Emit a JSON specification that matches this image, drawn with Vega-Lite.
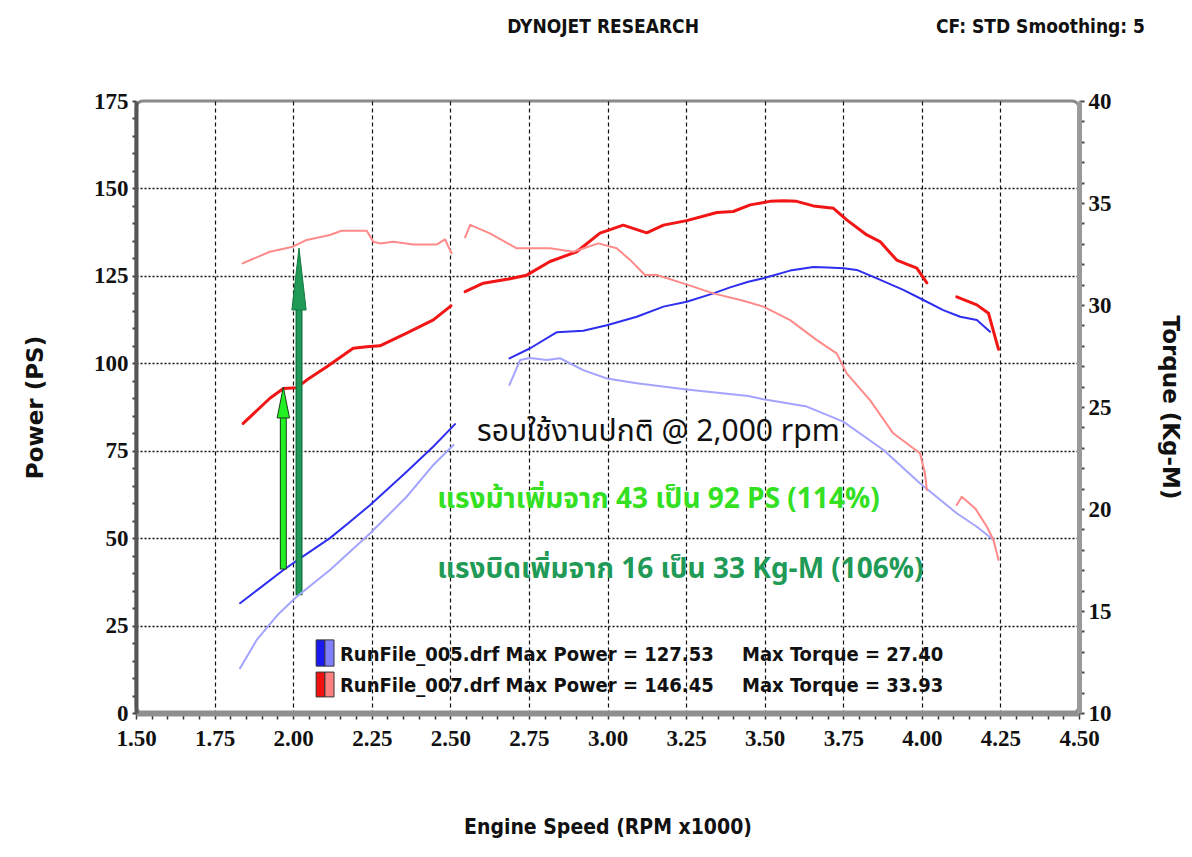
{
  "$schema": "https://vega.github.io/schema/vega-lite/v6.json",
  "width": 943,
  "height": 612,
  "autosize": "none",
  "padding": {"left": 136, "top": 101, "right": 113, "bottom": 144},
  "background": "white",
  "config": {
    "view": {"stroke": "#8a8a8a", "strokeWidth": 3, "cornerRadius": 7},
    "axis": {"labelFont": "Liberation Serif", "labelFontWeight": "bold", "labelFontSize": 23, "labelColor": "#111", "titleColor": "#111"}
  },
  "datasets": {
    "curves": [
      {"rpm": 1.831, "v": 31.4, "key": "P005", "seg": "a"},
      {"rpm": 1.898, "v": 36.0, "key": "P005", "seg": "a"},
      {"rpm": 1.969, "v": 40.9, "key": "P005", "seg": "a"},
      {"rpm": 2.022, "v": 44.2, "key": "P005", "seg": "a"},
      {"rpm": 2.117, "v": 50.0, "key": "P005", "seg": "a"},
      {"rpm": 2.18, "v": 54.6, "key": "P005", "seg": "a"},
      {"rpm": 2.245, "v": 59.5, "key": "P005", "seg": "a"},
      {"rpm": 2.30, "v": 64.0, "key": "P005", "seg": "a"},
      {"rpm": 2.361, "v": 69.0, "key": "P005", "seg": "a"},
      {"rpm": 2.446, "v": 76.2, "key": "P005", "seg": "a"},
      {"rpm": 2.515, "v": 82.6, "key": "P005", "seg": "a"},
      {"rpm": 2.688, "v": 101.4, "key": "P005", "seg": "b"},
      {"rpm": 2.754, "v": 104.3, "key": "P005", "seg": "b"},
      {"rpm": 2.839, "v": 108.9, "key": "P005", "seg": "b"},
      {"rpm": 2.923, "v": 109.3, "key": "P005", "seg": "b"},
      {"rpm": 2.998, "v": 110.9, "key": "P005", "seg": "b"},
      {"rpm": 3.093, "v": 113.3, "key": "P005", "seg": "b"},
      {"rpm": 3.178, "v": 116.2, "key": "P005", "seg": "b"},
      {"rpm": 3.252, "v": 117.6, "key": "P005", "seg": "b"},
      {"rpm": 3.337, "v": 120.0, "key": "P005", "seg": "b"},
      {"rpm": 3.390, "v": 121.7, "key": "P005", "seg": "b"},
      {"rpm": 3.448, "v": 123.3, "key": "P005", "seg": "b"},
      {"rpm": 3.496, "v": 124.3, "key": "P005", "seg": "b"},
      {"rpm": 3.581, "v": 126.5, "key": "P005", "seg": "b"},
      {"rpm": 3.655, "v": 127.53, "key": "P005", "seg": "b"},
      {"rpm": 3.70, "v": 127.4, "key": "P005", "seg": "b"},
      {"rpm": 3.751, "v": 127.2, "key": "P005", "seg": "b"},
      {"rpm": 3.793, "v": 126.7, "key": "P005", "seg": "b"},
      {"rpm": 3.857, "v": 124.3, "key": "P005", "seg": "b"},
      {"rpm": 3.941, "v": 121.0, "key": "P005", "seg": "b"},
      {"rpm": 4.005, "v": 118.1, "key": "P005", "seg": "b"},
      {"rpm": 4.068, "v": 115.2, "key": "P005", "seg": "b"},
      {"rpm": 4.122, "v": 113.3, "key": "P005", "seg": "b"},
      {"rpm": 4.175, "v": 112.4, "key": "P005", "seg": "b"},
      {"rpm": 4.217, "v": 109.0, "key": "P005", "seg": "b"},
      {"rpm": 1.841, "v": 82.8, "key": "P007", "seg": "a"},
      {"rpm": 1.926, "v": 90.0, "key": "P007", "seg": "a"},
      {"rpm": 1.969, "v": 92.8, "key": "P007", "seg": "a"},
      {"rpm": 2.011, "v": 93.0, "key": "P007", "seg": "a"},
      {"rpm": 2.043, "v": 95.2, "key": "P007", "seg": "a"},
      {"rpm": 2.107, "v": 99.0, "key": "P007", "seg": "a"},
      {"rpm": 2.191, "v": 104.3, "key": "P007", "seg": "a"},
      {"rpm": 2.234, "v": 104.7, "key": "P007", "seg": "a"},
      {"rpm": 2.276, "v": 105.0, "key": "P007", "seg": "a"},
      {"rpm": 2.361, "v": 108.6, "key": "P007", "seg": "a"},
      {"rpm": 2.446, "v": 112.4, "key": "P007", "seg": "a"},
      {"rpm": 2.502, "v": 116.4, "key": "P007", "seg": "a"},
      {"rpm": 2.547, "v": 120.5, "key": "P007", "seg": "b"},
      {"rpm": 2.605, "v": 122.9, "key": "P007", "seg": "b"},
      {"rpm": 2.680, "v": 124.0, "key": "P007", "seg": "b"},
      {"rpm": 2.743, "v": 125.2, "key": "P007", "seg": "b"},
      {"rpm": 2.817, "v": 129.1, "key": "P007", "seg": "b"},
      {"rpm": 2.902, "v": 131.9, "key": "P007", "seg": "b"},
      {"rpm": 2.976, "v": 137.2, "key": "P007", "seg": "b"},
      {"rpm": 3.050, "v": 139.5, "key": "P007", "seg": "b"},
      {"rpm": 3.125, "v": 137.3, "key": "P007", "seg": "b"},
      {"rpm": 3.178, "v": 139.5, "key": "P007", "seg": "b"},
      {"rpm": 3.252, "v": 140.8, "key": "P007", "seg": "b"},
      {"rpm": 3.348, "v": 143.1, "key": "P007", "seg": "b"},
      {"rpm": 3.400, "v": 143.4, "key": "P007", "seg": "b"},
      {"rpm": 3.454, "v": 145.3, "key": "P007", "seg": "b"},
      {"rpm": 3.517, "v": 146.3, "key": "P007", "seg": "b"},
      {"rpm": 3.560, "v": 146.45, "key": "P007", "seg": "b"},
      {"rpm": 3.602, "v": 146.3, "key": "P007", "seg": "b"},
      {"rpm": 3.655, "v": 145.0, "key": "P007", "seg": "b"},
      {"rpm": 3.719, "v": 144.3, "key": "P007", "seg": "b"},
      {"rpm": 3.761, "v": 141.0, "key": "P007", "seg": "b"},
      {"rpm": 3.825, "v": 136.7, "key": "P007", "seg": "b"},
      {"rpm": 3.867, "v": 134.8, "key": "P007", "seg": "b"},
      {"rpm": 3.920, "v": 129.5, "key": "P007", "seg": "b"},
      {"rpm": 3.984, "v": 127.2, "key": "P007", "seg": "b"},
      {"rpm": 4.016, "v": 123.0, "key": "P007", "seg": "b"},
      {"rpm": 4.111, "v": 119.0, "key": "P007", "seg": "c"},
      {"rpm": 4.175, "v": 116.7, "key": "P007", "seg": "c"},
      {"rpm": 4.212, "v": 114.3, "key": "P007", "seg": "c"},
      {"rpm": 4.244, "v": 104.0, "key": "P007", "seg": "c"}
    ],
    "torque": [
      {"rpm": 1.831, "v": 12.19, "key": "T005", "seg": "a"},
      {"rpm": 1.884, "v": 13.58, "key": "T005", "seg": "a"},
      {"rpm": 1.95, "v": 14.8, "key": "T005", "seg": "a"},
      {"rpm": 2.011, "v": 15.70, "key": "T005", "seg": "a"},
      {"rpm": 2.117, "v": 17.01, "key": "T005", "seg": "a"},
      {"rpm": 2.245, "v": 18.81, "key": "T005", "seg": "a"},
      {"rpm": 2.361, "v": 20.60, "key": "T005", "seg": "a"},
      {"rpm": 2.446, "v": 22.16, "key": "T005", "seg": "a"},
      {"rpm": 2.510, "v": 23.14, "key": "T005", "seg": "a"},
      {"rpm": 2.688, "v": 26.08, "key": "T005", "seg": "b"},
      {"rpm": 2.722, "v": 27.30, "key": "T005", "seg": "b"},
      {"rpm": 2.754, "v": 27.40, "key": "T005", "seg": "b"},
      {"rpm": 2.807, "v": 27.30, "key": "T005", "seg": "b"},
      {"rpm": 2.849, "v": 27.39, "key": "T005", "seg": "b"},
      {"rpm": 2.923, "v": 26.81, "key": "T005", "seg": "b"},
      {"rpm": 2.998, "v": 26.40, "key": "T005", "seg": "b"},
      {"rpm": 3.093, "v": 26.16, "key": "T005", "seg": "b"},
      {"rpm": 3.252, "v": 25.86, "key": "T005", "seg": "b"},
      {"rpm": 3.448, "v": 25.54, "key": "T005", "seg": "b"},
      {"rpm": 3.496, "v": 25.38, "key": "T005", "seg": "b"},
      {"rpm": 3.634, "v": 25.02, "key": "T005", "seg": "b"},
      {"rpm": 3.750, "v": 24.28, "key": "T005", "seg": "b"},
      {"rpm": 3.878, "v": 22.89, "key": "T005", "seg": "b"},
      {"rpm": 3.994, "v": 21.26, "key": "T005", "seg": "b"},
      {"rpm": 4.111, "v": 19.79, "key": "T005", "seg": "b"},
      {"rpm": 4.175, "v": 19.13, "key": "T005", "seg": "b"},
      {"rpm": 4.228, "v": 18.48, "key": "T005", "seg": "b"},
      {"rpm": 1.839, "v": 32.04, "key": "T007", "seg": "a"},
      {"rpm": 1.926, "v": 32.61, "key": "T007", "seg": "a"},
      {"rpm": 1.999, "v": 32.86, "key": "T007", "seg": "a"},
      {"rpm": 2.043, "v": 33.19, "key": "T007", "seg": "a"},
      {"rpm": 2.117, "v": 33.43, "key": "T007", "seg": "a"},
      {"rpm": 2.154, "v": 33.64, "key": "T007", "seg": "a"},
      {"rpm": 2.234, "v": 33.64, "key": "T007", "seg": "a"},
      {"rpm": 2.255, "v": 33.10, "key": "T007", "seg": "a"},
      {"rpm": 2.276, "v": 33.02, "key": "T007", "seg": "a"},
      {"rpm": 2.319, "v": 33.10, "key": "T007", "seg": "a"},
      {"rpm": 2.382, "v": 32.97, "key": "T007", "seg": "a"},
      {"rpm": 2.457, "v": 32.97, "key": "T007", "seg": "a"},
      {"rpm": 2.483, "v": 33.22, "key": "T007", "seg": "a"},
      {"rpm": 2.504, "v": 32.53, "key": "T007", "seg": "a"},
      {"rpm": 2.547, "v": 33.32, "key": "T007", "seg": "b"},
      {"rpm": 2.563, "v": 33.93, "key": "T007", "seg": "b"},
      {"rpm": 2.626, "v": 33.51, "key": "T007", "seg": "b"},
      {"rpm": 2.711, "v": 32.78, "key": "T007", "seg": "b"},
      {"rpm": 2.817, "v": 32.78, "key": "T007", "seg": "b"},
      {"rpm": 2.891, "v": 32.61, "key": "T007", "seg": "b"},
      {"rpm": 2.971, "v": 33.02, "key": "T007", "seg": "b"},
      {"rpm": 3.029, "v": 32.78, "key": "T007", "seg": "b"},
      {"rpm": 3.072, "v": 32.21, "key": "T007", "seg": "b"},
      {"rpm": 3.119, "v": 31.47, "key": "T007", "seg": "b"},
      {"rpm": 3.157, "v": 31.47, "key": "T007", "seg": "b"},
      {"rpm": 3.241, "v": 31.06, "key": "T007", "seg": "b"},
      {"rpm": 3.337, "v": 30.57, "key": "T007", "seg": "b"},
      {"rpm": 3.432, "v": 30.21, "key": "T007", "seg": "b"},
      {"rpm": 3.496, "v": 29.92, "key": "T007", "seg": "b"},
      {"rpm": 3.581, "v": 29.26, "key": "T007", "seg": "b"},
      {"rpm": 3.666, "v": 28.28, "key": "T007", "seg": "b"},
      {"rpm": 3.729, "v": 27.63, "key": "T007", "seg": "b"},
      {"rpm": 3.761, "v": 26.65, "key": "T007", "seg": "b"},
      {"rpm": 3.835, "v": 25.34, "key": "T007", "seg": "b"},
      {"rpm": 3.909, "v": 23.71, "key": "T007", "seg": "b"},
      {"rpm": 3.994, "v": 22.73, "key": "T007", "seg": "b"},
      {"rpm": 4.010, "v": 21.75, "key": "T007", "seg": "b"},
      {"rpm": 4.016, "v": 20.93, "key": "T007", "seg": "b"},
      {"rpm": 4.111, "v": 20.20, "key": "T007", "seg": "c"},
      {"rpm": 4.127, "v": 20.60, "key": "T007", "seg": "c"},
      {"rpm": 4.170, "v": 20.03, "key": "T007", "seg": "c"},
      {"rpm": 4.207, "v": 19.13, "key": "T007", "seg": "c"},
      {"rpm": 4.228, "v": 18.48, "key": "T007", "seg": "c"},
      {"rpm": 4.244, "v": 17.50, "key": "T007", "seg": "c"}
    ]
  },
  "encoding": {
    "x": {
      "field": "rpm", "type": "quantitative",
      "scale": {"domain": [1.5, 4.5], "nice": false, "zero": false},
      "axis": {
        "values": [1.5,1.55,1.6,1.65,1.7,1.75,1.8,1.85,1.9,1.95,2.0,2.05,2.1,2.15,2.2,2.25,2.3,2.35,2.4,2.45,2.5,2.55,2.6,2.65,2.7,2.75,2.8,2.85,2.9,2.95,3.0,3.05,3.1,3.15,3.2,3.25,3.3,3.35,3.4,3.45,3.5,3.55,3.6,3.65,3.7,3.75,3.8,3.85,3.9,3.95,4.0,4.05,4.1,4.15,4.2,4.25,4.3,4.35,4.4,4.45,4.5],
        "labelExpr": "round(datum.value*100) % 25 == 0 ? format(datum.value, '.2f') : ''",
        "labelOverlap": false, "labelFlush": false, "labelBound": false,
        "labelPadding": 8,
        "grid": true,
        "gridColor": "#111", "gridDash": [4, 3], "gridWidth": 1.2,
        "gridOpacity": {"condition": {"test": "round(datum.value*100) % 25 == 0 && datum.value > 1.6 && datum.value < 4.4", "value": 1}, "value": 0},
        "domainColor": "#8f8f8f", "domainWidth": 6,
        "tickColor": "#333", "tickSize": 6, "tickWidth": 1.5,
        "title": "Engine Speed (RPM x1000)",
        "titleFont": "DejaVu Sans Condensed", "titleFontSize": 21, "titleFontWeight": "bold",
        "titlePadding": 66
      }
    }
  },
  "layer": [
    {
      "encoding": {
        "y": {
          "field": "v", "type": "quantitative",
          "scale": {"domain": [0, 175], "nice": false},
          "axis": {
            "values": [0,5,10,15,20,25,30,35,40,45,50,55,60,65,70,75,80,85,90,95,100,105,110,115,120,125,130,135,140,145,150,155,160,165,170,175],
            "labelExpr": "datum.value % 25 == 0 ? datum.label : ''",
            "labelOverlap": false, "labelFlush": false, "labelBound": false,
            "labelPadding": 4,
            "grid": true,
            "gridColor": "#111", "gridDash": [2, 2], "gridWidth": 1.4,
            "gridOpacity": {"condition": {"test": "datum.value % 25 == 0 && datum.value > 0 && datum.value < 175", "value": 1}, "value": 0},
            "domainColor": "#555", "domainWidth": 4,
            "tickColor": "#444", "tickSize": 4, "tickWidth": 2,
            "title": "Power  (PS)",
            "titleFont": "DejaVu Sans", "titleFontSize": 23, "titleFontWeight": "bold",
            "titlePadding": 46
          }
        }
      },
      "layer": [
        {
          "data": {"name": "curves"},
          "mark": {"type": "line", "strokeCap": "round", "strokeJoin": "round"},
          "encoding": {
            "color": {"field": "key", "type": "nominal", "scale": {"domain": ["P005", "P007"], "range": ["#2e2ef0", "#f21515"]}, "legend": null},
            "strokeWidth": {"field": "key", "type": "nominal", "scale": {"domain": ["P005", "P007"], "range": [2, 3]}, "legend": null},
            "detail": {"field": "seg"}
          }
        },
        {
          "data": {"values": [{"rpm": 1.9687, "v": 41, "v2": 84.6}]},
          "mark": {"type": "rule", "color": "#1b3d1b", "strokeWidth": 7},
          "encoding": {"y2": {"field": "v2"}}
        },
        {
          "data": {"values": [{"rpm": 1.9687, "v": 41.3, "v2": 84.6}]},
          "mark": {"type": "rule", "color": "#22f022", "strokeWidth": 5},
          "encoding": {"y2": {"field": "v2"}}
        },
        {
          "data": {"values": [{"rpm": 1.9687, "v": 88.8}]},
          "mark": {"type": "point", "shape": "M-0.4,1L0,-1L0.4,1Z", "size": 961, "filled": true, "fill": "#22f022", "stroke": "#1b3d1b", "strokeWidth": 1, "opacity": 1},
          "encoding": {}
        },
        {
          "data": {"values": [{"rpm": 2.0186, "v": 33.7, "v2": 115.5}]},
          "mark": {"type": "rule", "color": "#157a43", "strokeWidth": 7},
          "encoding": {"y2": {"field": "v2"}}
        },
        {
          "data": {"values": [{"rpm": 2.0186, "v": 34, "v2": 115.5}]},
          "mark": {"type": "rule", "color": "#1f9a57", "strokeWidth": 4},
          "encoding": {"y2": {"field": "v2"}}
        },
        {
          "data": {"values": [{"rpm": 2.0186, "v": 124.1}]},
          "mark": {"type": "point", "shape": "M-0.23,1L0,-1L0.23,1Z", "size": 3844, "filled": true, "fill": "#1f9a57", "stroke": "#157a43", "strokeWidth": 1, "opacity": 1},
          "encoding": {}
        },
        {
          "data": {"values": [{"rpm": 2.585, "v": 80.4, "label": "รอบใช้งานปกติ @ 2,000 rpm"}]},
          "mark": {"type": "text", "align": "left", "baseline": "middle", "font": "Noto Sans Thai, Loma, Garuda, Tahoma, sans-serif", "fontSize": 30, "color": "#111"},
          "encoding": {"text": {"field": "label"}}
        },
        {
          "data": {"values": [{"rpm": 2.458, "v": 60.9, "label": "แรงม้าเพิ่มจาก 43 เป็น 92 PS (114%)"}]},
          "mark": {"type": "text", "align": "left", "baseline": "middle", "font": "Noto Sans Thai, Loma, Garuda, Tahoma, sans-serif", "fontSize": 28, "fontWeight": "bold", "color": "#33e022"},
          "encoding": {"text": {"field": "label"}}
        },
        {
          "data": {"values": [{"rpm": 2.458, "v": 40.9, "label": "แรงบิดเพิ่มจาก 16 เป็น 33 Kg-M (106%)"}]},
          "mark": {"type": "text", "align": "left", "baseline": "middle", "font": "Noto Sans Thai, Loma, Garuda, Tahoma, sans-serif", "fontSize": 28, "fontWeight": "bold", "color": "#1f9a57"},
          "encoding": {"text": {"field": "label"}}
        },
        {
          "data": {"values": [
            {"rpm": 2.073, "rpm2": 2.101, "v": 20.9, "v2": 13.4, "key": "P005"},
            {"rpm": 2.101, "rpm2": 2.130, "v": 20.9, "v2": 13.4, "key": "T005"},
            {"rpm": 2.073, "rpm2": 2.101, "v": 11.7, "v2": 4.6, "key": "P007"},
            {"rpm": 2.101, "rpm2": 2.130, "v": 11.7, "v2": 4.6, "key": "T007"}
          ]},
          "mark": {"type": "rect", "stroke": "#333", "strokeWidth": 1},
          "encoding": {
            "x2": {"field": "rpm2"},
            "y2": {"field": "v2"},
            "fill": {"field": "key", "type": "nominal", "scale": {"domain": ["P005", "T005", "P007", "T007"], "range": ["#1a1af0", "#8080ff", "#f01010", "#ff8080"]}, "legend": null}
          }
        },
        {
          "data": {"values": [
            {"rpm": 2.149, "v": 16.6, "label": "RunFile_005.drf Max Power = 127.53"},
            {"rpm": 2.149, "v": 7.7, "label": "RunFile_007.drf Max Power = 146.45"},
            {"rpm": 3.428, "v": 16.6, "label": "Max Torque = 27.40"},
            {"rpm": 3.428, "v": 7.7, "label": "Max Torque = 33.93"}
          ]},
          "mark": {"type": "text", "align": "left", "baseline": "middle", "font": "DejaVu Sans Condensed", "fontSize": 20, "fontWeight": "bold", "color": "#111"},
          "encoding": {"text": {"field": "label"}}
        },
        {
          "data": {"values": [{"rpm": 2.986, "v": 196.2, "label": "DYNOJET RESEARCH"}]},
          "mark": {"type": "text", "align": "center", "baseline": "middle", "font": "DejaVu Sans Condensed", "fontSize": 19, "fontWeight": "bold", "color": "#111"},
          "encoding": {"text": {"field": "label"}}
        },
        {
          "data": {"values": [{"rpm": 4.71, "v": 196.2, "label": "CF: STD  Smoothing: 5"}]},
          "mark": {"type": "text", "align": "right", "baseline": "middle", "font": "DejaVu Sans Condensed", "fontSize": 19, "fontWeight": "bold", "color": "#111"},
          "encoding": {"text": {"field": "label"}}
        }
      ]
    },
    {
      "data": {"name": "torque"},
      "mark": {"type": "line", "strokeWidth": 2, "strokeCap": "round", "strokeJoin": "round"},
      "encoding": {
        "y": {
          "field": "v", "type": "quantitative",
          "scale": {"domain": [10, 40], "nice": false, "zero": false},
          "axis": {
            "orient": "right",
            "values": [10,11,12,13,14,15,16,17,18,19,20,21,22,23,24,25,26,27,28,29,30,31,32,33,34,35,36,37,38,39,40],
            "labelExpr": "datum.value % 5 == 0 ? datum.label : ''",
            "labelOverlap": false, "labelFlush": false, "labelBound": false,
            "labelPadding": 4,
            "grid": false,
            "domainColor": "#9a9a9a", "domainWidth": 5,
            "tickColor": "#444", "tickSize": 5, "tickWidth": 2,
            "title": "Torque  (Kg-M)",
            "titleFont": "DejaVu Sans", "titleFontSize": 23, "titleFontWeight": "bold",
            "titleAngle": 90,
            "titlePadding": 46
          }
        },
        "color": {"field": "key", "type": "nominal", "scale": {"domain": ["T005", "T007"], "range": ["#a4a4ff", "#ff8a8a"]}, "legend": null},
        "detail": {"field": "seg"}
      }
    }
  ],
  "resolve": {"scale": {"y": "independent", "color": "independent", "strokeWidth": "independent"}}
}
